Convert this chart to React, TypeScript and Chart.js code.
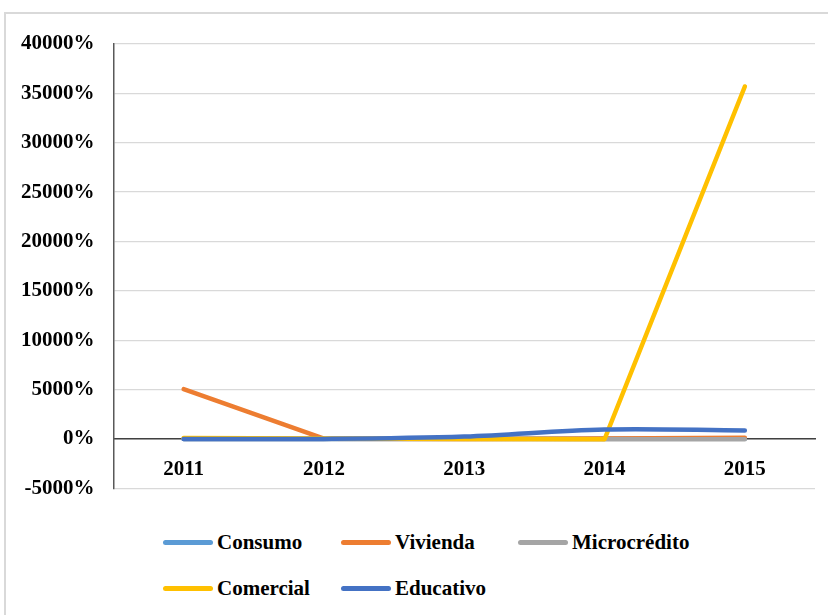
import React, { useEffect, useRef } from "react";
import { Chart, registerables } from "chart.js";

Chart.register(...registerables);

// Years on the horizontal axis
const years = ["2011", "2012", "2013", "2014", "2015"];

// Variation per credit type, in percent
const consumo = [10, 5, 20, 40, 30];
const vivienda = [5050, 30, 0, 60, 130];
const microcredito = [0, 0, 0, -20, -30];
const comercial = [110, 60, 0, -20, 35700];
const educativo = [0, 10, 250, 960, 860];

// Vertical axis range and step
const yMin = -5000;
const yMax = 40000;
const yStep = 5000;

const seriesNames = ["Consumo", "Vivienda", "Microcrédito", "Comercial", "Educativo"];
const seriesColors = ["#5B9BD5", "#ED7D31", "#A5A5A5", "#FFC000", "#4472C4"];

const FONT = '"Liberation Serif", "Times New Roman", serif';

const legendSlots = [
  { left: 163, top: 542 },
  { left: 341, top: 542 },
  { left: 518, top: 542 },
  { left: 163, top: 588 },
  { left: 341, top: 588 },
];

export default function App() {
  const canvasRef = useRef<HTMLCanvasElement | null>(null);

  useEffect(() => {
    if (!canvasRef.current) return;
    const values = [consumo, vivienda, microcredito, comercial, educativo];
    // later series sit on top of earlier ones
    const datasets = values.map((data, i) => ({
      label: seriesNames[i],
      data,
      borderColor: seriesColors[i],
      backgroundColor: seriesColors[i],
      borderWidth: 4.5,
      borderCapStyle: "round" as const,
      borderJoinStyle: "round" as const,
      pointRadius: 0,
      tension: i === 4 ? 0.35 : 0,
      order: values.length - i,
      fill: false,
    }));

    const chart = new Chart(canvasRef.current, {
      type: "line",
      data: { labels: years, datasets },
      options: {
        animation: false,
        responsive: false,
        maintainAspectRatio: false,
        layout: { padding: { top: 44, bottom: 30, right: 13, left: 2 } },
        plugins: {
          legend: { display: false },
          tooltip: { enabled: false },
        },
        scales: {
          x: {
            type: "category",
            offset: true,
            position: { y: 0 },
            grid: { display: false, drawTicks: false },
            border: { display: true, color: "#404040", width: 1.5 },
            ticks: {
              color: "#000",
              padding: 18,
              font: { family: FONT, size: 21, weight: "bold" },
            },
          },
          y: {
            min: yMin,
            max: yMax,
            grid: { color: "#d9d9d9", lineWidth: 1.3, drawTicks: false },
            border: { display: true, color: "#595959", width: 1.5 },
            ticks: {
              stepSize: yStep,
              color: "#000",
              padding: 19,
              font: { family: FONT, size: 21, weight: "bold" },
              callback: (v) => `${v}%`,
            },
          },
        },
      },
    });
    return () => chart.destroy();
  }, []);

  return (
    <div style={{ position: "absolute", left: 0, top: 0, width: 828, height: 615, overflow: "hidden", background: "#fff" }}>
      <div
        style={{
          position: "absolute",
          left: 4,
          top: 12,
          width: 840,
          height: 620,
          border: "2px solid #d9d9d9",
          boxSizing: "border-box",
        }}
      />
      <canvas ref={canvasRef} width={828} height={520} style={{ position: "absolute", left: 0, top: 0 }} />
      {seriesNames.map((name, i) => (
        <div
          key={name}
          style={{
            position: "absolute",
            left: legendSlots[i].left,
            top: legendSlots[i].top - 13,
            height: 26,
            display: "flex",
            alignItems: "center",
            fontFamily: FONT,
            fontWeight: "bold",
            fontSize: 21,
            color: "#000",
            whiteSpace: "nowrap",
          }}
        >
          <span
            style={{
              display: "inline-block",
              width: 50,
              height: 5,
              borderRadius: 3,
              background: seriesColors[i],
              marginRight: 4,
            }}
          />
          <span>{name}</span>
        </div>
      ))}
    </div>
  );
}
